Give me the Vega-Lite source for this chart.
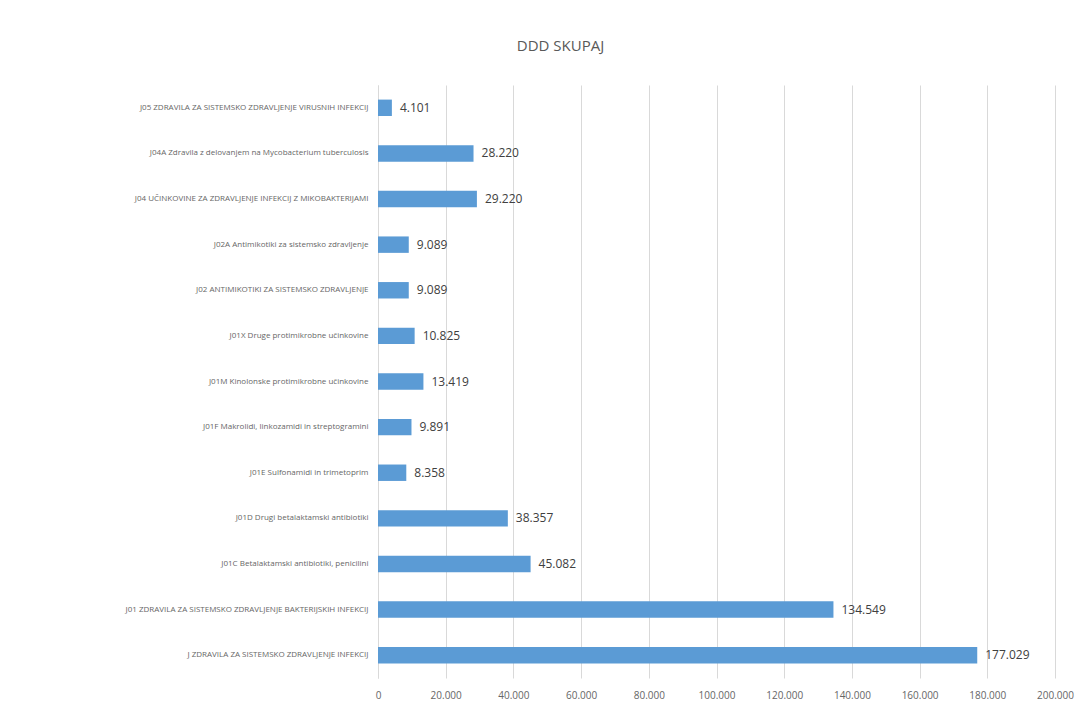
{
  "$schema": "https://vega.github.io/schema/vega-lite/v6.json",
  "autosize": "none",
  "width": 677,
  "height": 593,
  "padding": {"left": 378, "top": 85, "right": 37, "bottom": 37},
  "background": "white",
  "title": {"text": "DDD SKUPAJ", "anchor": "middle", "dx": -156, "offset": 31, "fontSize": 15, "font": "Open Sans", "fontWeight": "normal", "color": "#595959"},
  "data": {"values": [
    {"k": "J05 ZDRAVILA ZA SISTEMSKO ZDRAVLJENJE VIRUSNIH INFEKCIJ", "v": 4101},
    {"k": "J04A Zdravila z delovanjem na Mycobacterium tuberculosis", "v": 28220},
    {"k": "J04 UČINKOVINE ZA ZDRAVLJENJE INFEKCIJ Z MIKOBAKTERIJAMI", "v": 29220},
    {"k": "J02A Antimikotiki za sistemsko zdravljenje", "v": 9089},
    {"k": "J02 ANTIMIKOTIKI ZA SISTEMSKO ZDRAVLJENJE", "v": 9089},
    {"k": "J01X Druge protimikrobne učinkovine", "v": 10825},
    {"k": "J01M Kinolonske protimikrobne učinkovine", "v": 13419},
    {"k": "J01F Makrolidi, linkozamidi in streptogramini", "v": 9891},
    {"k": "J01E Sulfonamidi in trimetoprim", "v": 8358},
    {"k": "J01D Drugi betalaktamski antibiotiki", "v": 38357},
    {"k": "J01C Betalaktamski antibiotiki, penicilini", "v": 45082},
    {"k": "J01 ZDRAVILA ZA SISTEMSKO ZDRAVLJENJE BAKTERIJSKIH INFEKCIJ", "v": 134549},
    {"k": "J ZDRAVILA ZA SISTEMSKO ZDRAVLJENJE INFEKCIJ", "v": 177029}
  ]},
  "encoding": {
    "y": {"field": "k", "type": "nominal", "sort": null, "title": null,
      "scale": {"paddingInner": 0.64, "paddingOuter": 0.32},
      "axis": {"labelFontSize": 8, "labelColor": "#666666", "labelFont": "Open Sans", "ticks": false, "domainColor": "#d9d9d9", "labelPadding": 10, "labelLimit": 360}},
    "x": {"field": "v", "type": "quantitative", "title": null,
      "scale": {"domain": [0, 200000], "nice": false},
      "axis": {"values": [0, 20000, 40000, 60000, 80000, 100000, 120000, 140000, 160000, 180000, 200000],
        "labelExpr": "replace(format(datum.value, ','), ',', '.')",
        "labelFlush": false, "labelOverlap": false,
        "labelFontSize": 10, "labelColor": "#666666", "labelFont": "Open Sans",
        "grid": true, "gridColor": "#d9d9d9", "domain": false, "ticks": false, "labelPadding": 12}}
  },
  "layer": [
    {"mark": {"type": "bar", "color": "#5B9BD5"}},
    {"mark": {"type": "text", "align": "left", "dx": 8, "fontSize": 12, "font": "Open Sans", "color": "#404040"},
      "encoding": {"text": {"field": "v", "type": "quantitative", "format": ","}}}
  ],
  "config": {"view": {"stroke": null}, "locale": {"number": {"decimal": ",", "thousands": ".", "grouping": [3], "currency": ["", "€"]}}}
}
